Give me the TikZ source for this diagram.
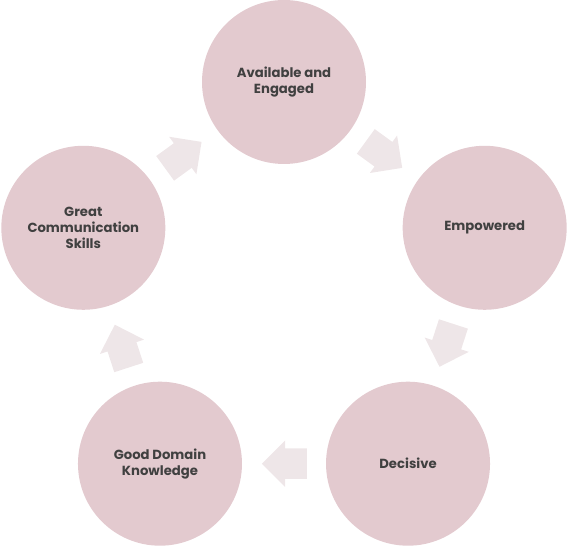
\documentclass[tikz,border=0pt]{standalone}
\usepackage{fontspec}
\setmainfont{Poppins}
\usetikzlibrary{shapes.arrows,calc}
\definecolor{circfill}{HTML}{E3CACF}
\definecolor{arrfill}{HTML}{EEE6E8}
\definecolor{txtgray}{HTML}{404040}
\begin{document}
\begin{tikzpicture}[x=1pt,y=1pt,
  stepcirc/.style={circle,fill=circfill,minimum size=164pt,inner sep=0pt,align=center,
    font=\fontsize{13.2}{16}\selectfont\bfseries,text=txtgray},
  steparrow/.style={single arrow,fill=arrfill,minimum height=45pt,inner xsep=0pt,
    inner ysep=15pt,single arrow head extend=8pt,single arrow head indent=0pt}]
\useasboundingbox (0,0) rectangle (568,548);
% centre of the cycle
\coordinate (mid) at (284,255);
% five steps round the cycle
\node[stepcirc] (avail) at ($(mid)+(90:211)$) {Available and\\Engaged};
\node[stepcirc] (empow) at ($(mid)+(18:211)$) {Empowered};
\node[stepcirc] (decis) at ($(mid)+(-54:211)$) {Decisive};
\node[stepcirc] (domain) at ($(mid)+(-126:211)$) {Good Domain\\Knowledge};
\node[stepcirc] (comm) at ($(mid)+(162:211)$) {Great\\Communication\\Skills};
% block arrows between steps
\node[steparrow,rotate=-36] (a1) at ($(empow)!0.5!(avail)!8pt!(avail)$) {};
\node[steparrow,rotate=-108] (a2) at ($(decis)!0.5!(empow)!8pt!(empow)$) {};
\node[steparrow,rotate=180] (a3) at ($(domain)!0.5!(decis)!8pt!(decis)$) {};
\node[steparrow,rotate=108] (a4) at ($(comm)!0.5!(domain)!8pt!(domain)$) {};
\node[steparrow,rotate=36] (a5) at ($(avail)!0.5!(comm)!8pt!(comm)$) {};
\end{tikzpicture}
\end{document}
